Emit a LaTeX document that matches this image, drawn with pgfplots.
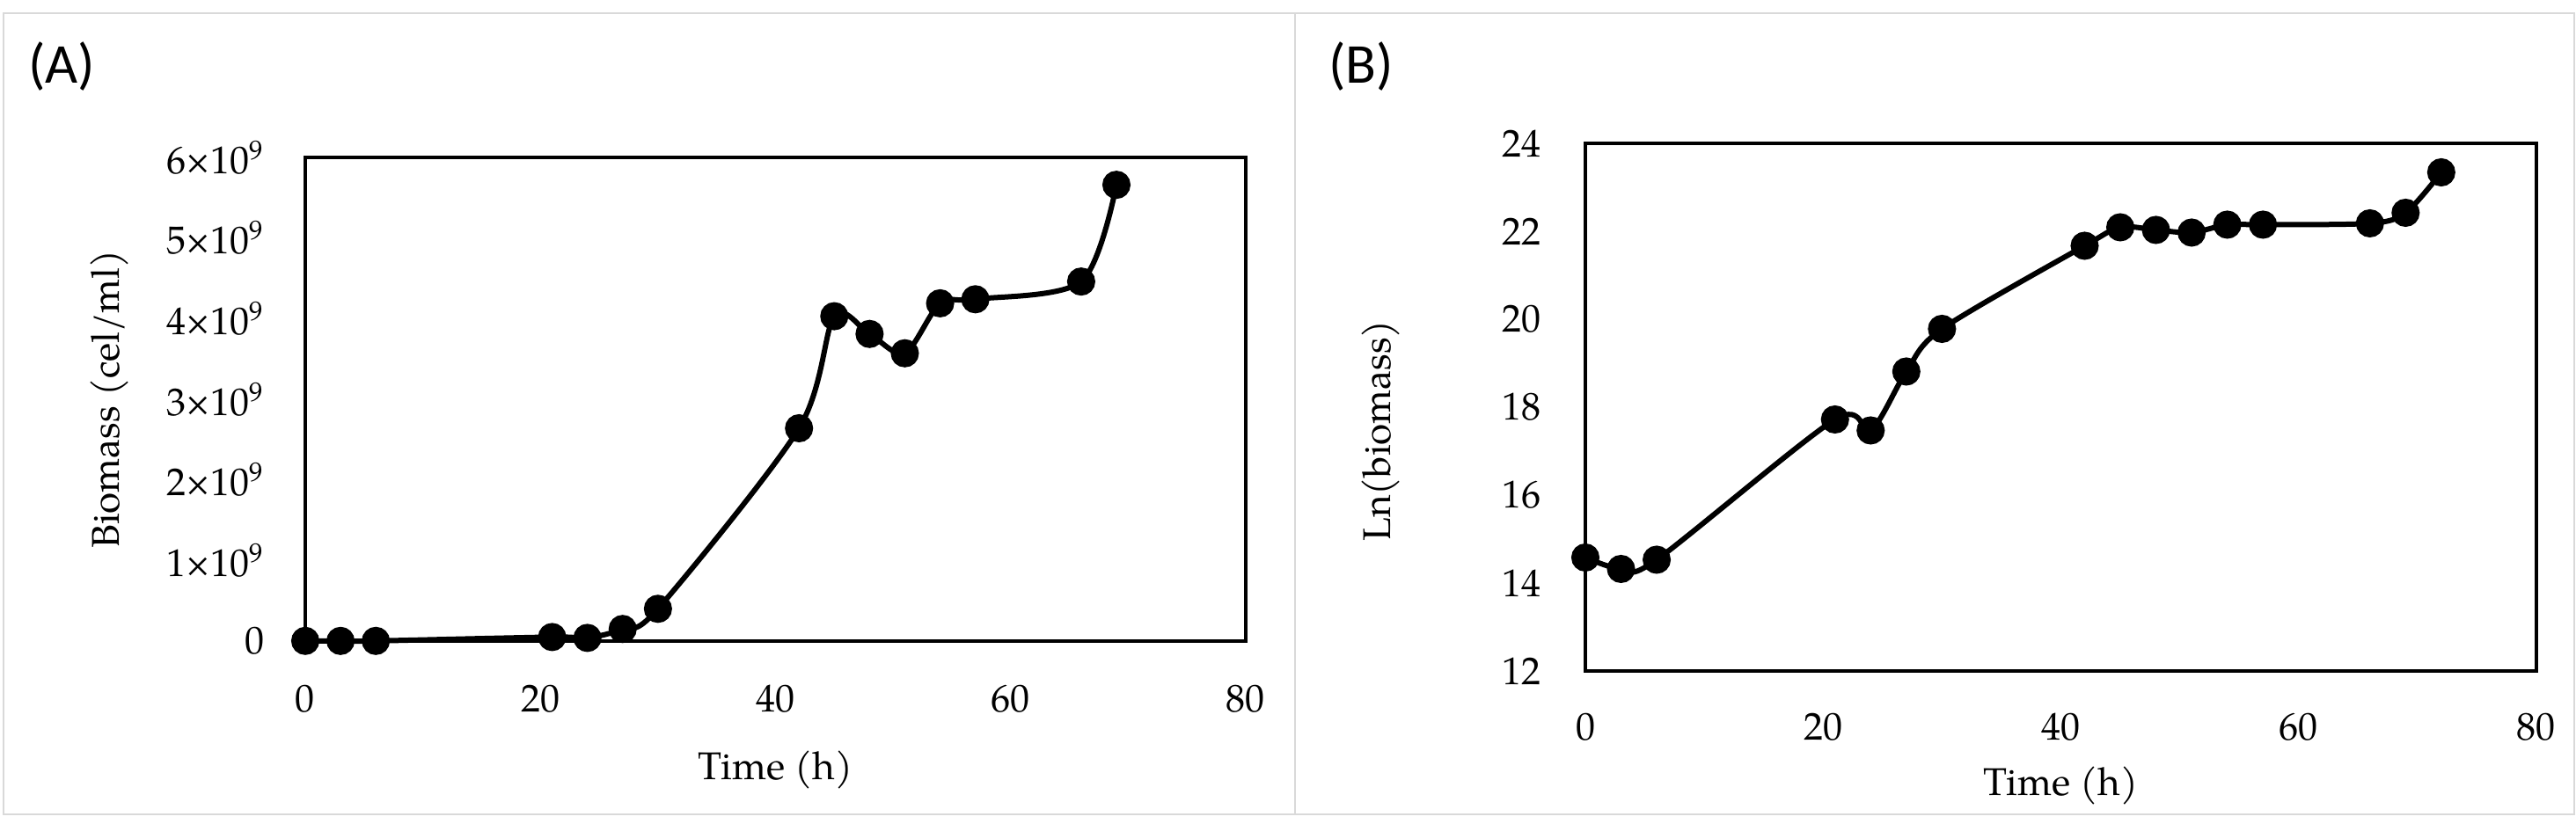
\documentclass[border=0pt]{standalone}
\usepackage{fontspec}
\setmainfont{TeX Gyre Pagella}
\newfontfamily\panelfont{Carlito}
\usepackage{pgfplots}
\pgfplotsset{compat=1.18}

\definecolor{framegray}{RGB}{217,217,217}

% biomass, cells per ml
\pgfplotstableread{
t     b
0     0.0021e9
3     0.0017e9
6     0.0020e9
21    0.050e9
24    0.039e9
27    0.15e9
30    0.40e9
42    2.64e9
45    4.03e9
48    3.81e9
51    3.57e9
54    4.19e9
57    4.24e9
66    4.46e9
69    5.66e9
}\biomass

% ln of biomass
\pgfplotstableread{
t     lnb
0     14.58
3     14.32
6     14.53
21    17.72
24    17.47
27    18.81
30    19.78
42    21.67
45    22.09
48    22.03
51    21.97
54    22.15
57    22.15
66    22.18
69    22.42
72    23.34
}\lnbiomass

\pgfplotsset{
    panel/.style={
        scale only axis,
        anchor=south west,
        clip=false,
        xmin=0, xmax=80,
        xtick={0,20,...,80},
        major tick length=0pt,
        axis line style={line width=1.1pt},
        tick label style={font=\fontsize{11}{13}\selectfont},
        label style={font=\fontsize{11}{13}\selectfont},
        /pgf/number format/assume math mode=true,
        xlabel={Time (h)},
    },
    curve/.style={black, line width=1.5pt, smooth, tension=0.5,
        mark=*, mark size=3.25pt},
}

\begin{document}
\begin{tikzpicture}
    \useasboundingbox (0,0) rectangle (732pt,234.25pt);
    % panel frames
    \draw[framegray, line width=0.6pt] (1pt,2.75pt) rectangle (731.5pt,230.5pt);
    \draw[framegray, line width=0.6pt] (368pt,2.75pt) -- (368pt,230.5pt);

    \node[font=\panelfont\fontsize{16}{18}\selectfont] at (17.5pt,215.25pt) {(A)};
    \node[font=\panelfont\fontsize{16}{18}\selectfont] at (386.75pt,215.25pt) {(B)};

    \begin{axis}[panel,
        at={(86.75pt,52pt)},
        width=267.25pt, height=137.5pt,
        ymin=0, ymax=6e9,
        ytick={0,1e9,2e9,3e9,4e9,5e9,6e9},
        yticklabels={0, 1×10\textsuperscript{9}, 2×10\textsuperscript{9},
            3×10\textsuperscript{9}, 4×10\textsuperscript{9},
            5×10\textsuperscript{9}, 6×10\textsuperscript{9}},
        scaled y ticks=false,
        xticklabel style={yshift=-9pt},
        yticklabel style={xshift=-8pt},
        ylabel={Biomass (cel/ml)},
        xlabel style={at={(axis description cs:0.5,-0.2673)}, anchor=center},
        ylabel style={at={(axis description cs:-0.2077,0.5)}, anchor=center},
        ]
        \addplot[curve] table[x=t, y=b] {\biomass};
    \end{axis}

    \begin{axis}[panel,
        at={(450.5pt,43.5pt)},
        width=270.25pt, height=150pt,
        ymin=12, ymax=24,
        ytick={12,14,...,24},
        xticklabel style={yshift=-8.5pt},
        yticklabel style={xshift=-9pt},
        ylabel={Ln(biomass)},
        xlabel style={at={(axis description cs:0.5,-0.2183)}, anchor=center},
        ylabel style={at={(axis description cs:-0.2155,0.455)}, anchor=center},
        ]
        \addplot[curve] table[x=t, y=lnb] {\lnbiomass};
    \end{axis}
\end{tikzpicture}
\end{document}
